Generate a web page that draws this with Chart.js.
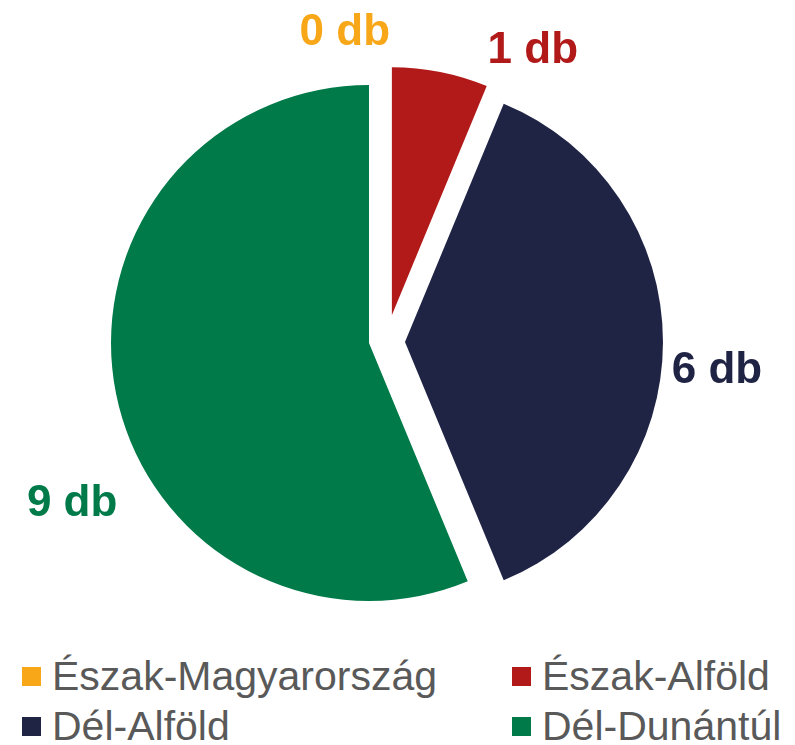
<!DOCTYPE html>
<html>
<head>
<meta charset="utf-8">
<script src="https://cdn.jsdelivr.net/npm/chart.js@4/dist/chart.umd.min.js"></script>
<style>
  html, body { margin: 0; padding: 0; background: #fff; }
  #wrap { position: relative; width: 795px; height: 745px; overflow: hidden; }
  #chartBox { position: absolute; left: 0; top: 0; width: 795px; height: 640px; }
  #legend { position: absolute; left: 22px; top: 651px; display: grid;
            grid-template-columns: 490px auto; grid-auto-rows: 50px;
            font-family: "Liberation Sans", Arial, sans-serif; font-size: 41px; color: #595959; }
  .item { display: flex; align-items: center; height: 50px; line-height: 50px; white-space: nowrap; }
  .box { width: 19px; height: 19px; margin-right: 11px; flex: none; }
</style>
</head>
<body>
<div id="wrap">
  <div id="chartBox"><canvas id="c"></canvas></div>
  <div id="legend"></div>
</div>
<script>
// ---- data ----
const categories = ["Észak-Magyarország", "Észak-Alföld", "Dél-Alföld", "Dél-Dunántúl"];
const values = [0, 1, 6, 9];
const unit = "db";
const colors = ["#F7A718", "#B21A1A", "#1F2445", "#007A49"];

// ---- style: exploded slices (distance px, direction deg clockwise from top, radius scale) ----
const explode = [
  { dist: 0,  dir: 0,    scale: 1 },
  { dist: 36, dir: 39.4, scale: 0.961 },
  { dist: 36, dir: 88.4, scale: 1 },
  { dist: 0,  dir: 0,    scale: 1 }
];
// ---- style: label placement (deg clockwise from top, distance as factor of radius) ----
const labelPlace = [
  { angle: -4.4,  dist: 1.221 },
  { angle: 27.75, dist: 1.221 },
  { angle: 94.6,  dist: 1.213 },
  { angle: 242.1, dist: 1.302 }
];

const explodePlugin = {
  id: 'explodeSlices',
  afterDatasetUpdate(chart, args) {
    const meta = args.meta;
    meta.data.forEach((arc, i) => {
      const e = explode[i];
      if (!e) return;
      const a = e.dir * Math.PI / 180;
      arc.x += e.dist * Math.sin(a);
      arc.y -= e.dist * Math.cos(a);
      arc.outerRadius *= e.scale;
    });
  }
};

const labelPlugin = {
  id: 'sliceLabels',
  afterDatasetsDraw(chart) {
    const ctx = chart.ctx;
    const meta = chart.getDatasetMeta(0);
    const ds = chart.data.datasets[0];
    const size = 44;
    ctx.save();
    ctx.font = 'bold ' + size + 'px "Liberation Sans", Arial, sans-serif';
    ctx.textAlign = 'center';
    ctx.textBaseline = 'alphabetic';
    meta.data.forEach((arc, i) => {
      const p = labelPlace[i];
      const a = p.angle * Math.PI / 180;
      const r = arc.outerRadius * p.dist;
      const x = arc.x + r * Math.sin(a);
      const y = arc.y - r * Math.cos(a);
      ctx.fillStyle = ds.backgroundColor[i];
      ctx.fillText(ds.data[i] + ' ' + unit, x, y + size * 0.358);
    });
    ctx.restore();
  }
};

const htmlLegendPlugin = {
  id: 'htmlLegend',
  afterUpdate(chart) {
    const el = document.getElementById('legend');
    el.innerHTML = '';
    chart.data.labels.forEach((lab, i) => {
      const item = document.createElement('div');
      item.className = 'item';
      const box = document.createElement('span');
      box.className = 'box';
      box.style.background = chart.data.datasets[0].backgroundColor[i];
      const txt = document.createElement('span');
      txt.textContent = lab;
      item.appendChild(box);
      item.appendChild(txt);
      el.appendChild(item);
    });
  }
};

new Chart(document.getElementById('c'), {
  type: 'pie',
  data: {
    labels: categories,
    datasets: [{
      data: values,
      backgroundColor: colors,
      borderWidth: 0,
      offset: 0
    }]
  },
  options: {
    responsive: true,
    maintainAspectRatio: false,
    animation: false,
    layout: { padding: { left: 111, top: 85, right: 168, bottom: 39 } },
    plugins: {
      legend: { display: false },
      tooltip: { enabled: false }
    }
  },
  plugins: [explodePlugin, labelPlugin, htmlLegendPlugin]
});
</script>
</body>
</html>
